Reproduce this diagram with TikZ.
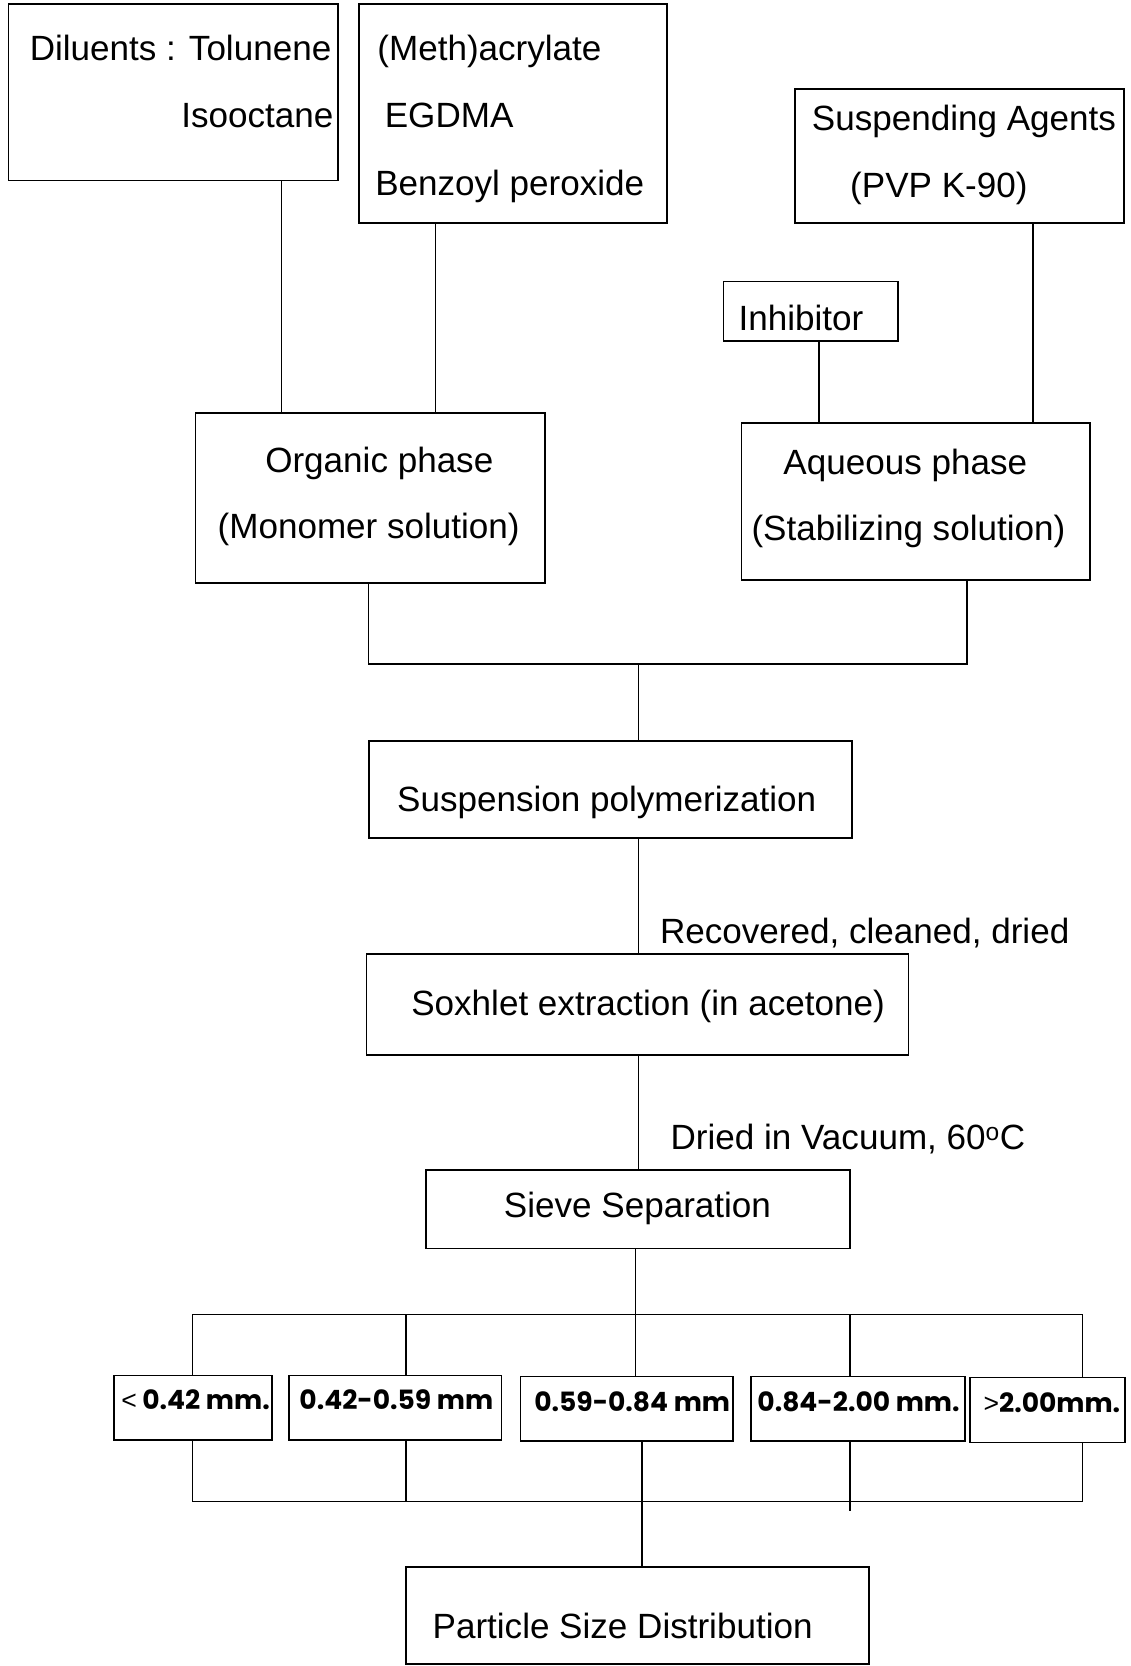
\documentclass[tikz,border=0pt]{standalone}
\usepackage{fontspec}
\setmainfont{Liberation Sans}
\newfontfamily\sizefont{Poppins}
\begin{document}
\begin{tikzpicture}[x=1pt,y=-1pt,
  box/.style={draw, line width=1.6pt, inner sep=0pt, outer sep=0pt},
  txt/.style={inner sep=0pt, font=\fontsize{33}{40}\selectfont},
  sz/.style={inner sep=0pt, anchor=base, font=\sizefont\bfseries\fontsize{25}{30}\selectfont},
  ln/.style={line width=1.5pt}]
\useasboundingbox[fill=white] (0,0) rectangle (1064,1568);

% boxes
\node[box, minimum width=310pt, minimum height=166pt] (dil) at (163,87) {};
\node[box, minimum width=290pt, minimum height=206pt] (meth) at (483,107) {};
\node[box, minimum width=310pt, minimum height=126pt] (susp) at (903,147) {};
\node[box, minimum width=164pt, minimum height=56pt] (inh) at (763,293) {};
\node[box, minimum width=329pt, minimum height=160pt] (org) at (348.5,469) {};
\node[box, minimum width=328pt, minimum height=148pt] (aq) at (862,472) {};
\node[box, minimum width=455pt, minimum height=91pt] (poly) at (574.5,743) {};
\node[box, minimum width=510pt, minimum height=95pt] (sox) at (600,945.5) {};
\node[box, minimum width=399pt, minimum height=74pt] (sieve) at (600.5,1138) {};
\node[box, minimum width=149pt, minimum height=61pt] (b1) at (181.5,1325) {};
\node[box, minimum width=200pt, minimum height=61pt] (b2) at (372,1325) {};
\node[box, minimum width=200pt, minimum height=61pt] (b3) at (590,1326) {};
\node[box, minimum width=201pt, minimum height=61pt] (b4) at (807.5,1326) {};
\node[box, minimum width=146pt, minimum height=61pt] (b5) at (986,1327) {};
\node[box, minimum width=436pt, minimum height=91pt] (psd) at (600,1520.5) {};

% texts
\node[txt, anchor=base east] (t1) at (312,57) {Diluents : Tolunene};
\node[txt, anchor=base east] (t2) at (314,120) {Isooctane};
\node[txt, anchor=base west] (t3) at (355,57) {(Meth)acrylate};
\node[txt, anchor=base west] (t4) at (362,120) {EGDMA};
\node[txt, anchor=base west] (t5) at (353,184) {Benzoyl peroxide};
\node[txt, anchor=base west] (t6) at (764,123) {Suspending Agents};
\node[txt, anchor=base west] (t7) at (800,186) {(PVP K-90)};
\node[txt, anchor=base west] (t8) at (695,311) {Inhibitor};
\node[txt, anchor=base] (t9) at (357,445) {Organic phase};
\node[txt, anchor=base] (t10) at (347,507) {(Monomer solution)};
\node[txt, anchor=base] (t11) at (852,447) {Aqueous phase};
\node[txt, anchor=base] (t12) at (855,509) {(Stabilizing solution)};
\node[txt, anchor=base] (t13) at (571,764) {Suspension polymerization};
\node[txt, anchor=base west] (t14) at (621,888) {Recovered, cleaned, dried};
\node[txt, anchor=base] (t15) at (610,956) {Soxhlet extraction (in acetone)};
\node[txt, anchor=base west] (t16) at (631,1082) {Dried in Vacuum, 60\textsuperscript{o}C};
\node[txt, anchor=base] (t17) at (600,1146) {Sieve Separation};
\node[txt, anchor=base] (t18) at (586,1542) {Particle Size Distribution};
\node[sz] (s1) at (184,1327) {{\normalfont\fontsize{25}{30}\selectfont<} 0.42 mm.};
\node[sz] (s2) at (373,1327) {0.42-0.59 mm};
\node[sz] (s3) at (595,1328) {0.59-0.84 mm};
\node[sz] (s4) at (808,1328) {0.84-2.00 mm.};
\node[sz] (s5) at (990,1329) {{\normalfont\fontsize{25}{30}\selectfont>}2.00mm.};

% connector positions
\coordinate (xd) at (265,0);
\coordinate (xm) at (410,0);
\coordinate (xs) at (972,0);
\coordinate (xi) at (771,0);
\coordinate (xo) at (347,0);
\coordinate (xq) at (910,0);
\coordinate (jm) at (601,625);
\coordinate (js) at (598,1237);
\coordinate (jb) at (604,1413);
\coordinate (d1) at (181,0);
\coordinate (d2) at (382,0);
\coordinate (d3) at (598,0);
\coordinate (d4) at (800,0);
\coordinate (d5) at (1019,0);
\coordinate (e3) at (604,0);
\coordinate (jb4) at (800,1422);

% connectors
\draw[ln] (dil.south -| xd) -- (org.north -| xd);
\draw[ln] (meth.south -| xm) -- (org.north -| xm);
\draw[ln] (susp.south -| xs) -- (aq.north -| xs);
\draw[ln] (inh.south -| xi) -- (aq.north -| xi);
\draw[ln] (org.south -| xo) |- (jm) -| (aq.south -| xq);
\draw[ln] (jm) -- (poly.north -| jm);
\draw[ln] (poly.south -| jm) -- (sox.north -| jm);
\draw[ln] (sox.south -| jm) -- (sieve.north -| jm);
\draw[ln] (sieve.south -| js) -- (js);
\draw[ln] (d1 |- js) -- (d5 |- js);
\draw[ln] (d1 |- js) -- (b1.north -| d1);
\draw[ln] (d2 |- js) -- (b2.north -| d2);
\draw[ln] (d3 |- js) -- (b3.north -| d3);
\draw[ln] (d4 |- js) -- (b4.north -| d4);
\draw[ln] (d5 |- js) -- (b5.north -| d5);
\draw[ln] (b1.south -| d1) -- (d1 |- jb);
\draw[ln] (b2.south -| d2) -- (d2 |- jb);
\draw[ln] (b3.south -| e3) -- (e3 |- jb);
\draw[ln] (b4.south -| d4) -- (jb4);
\draw[ln] (b5.south -| d5) -- (d5 |- jb);
\draw[ln] (d1 |- jb) -- (d5 |- jb);
\draw[ln] (jb) -- (psd.north -| jb);
\end{tikzpicture}
\end{document}
